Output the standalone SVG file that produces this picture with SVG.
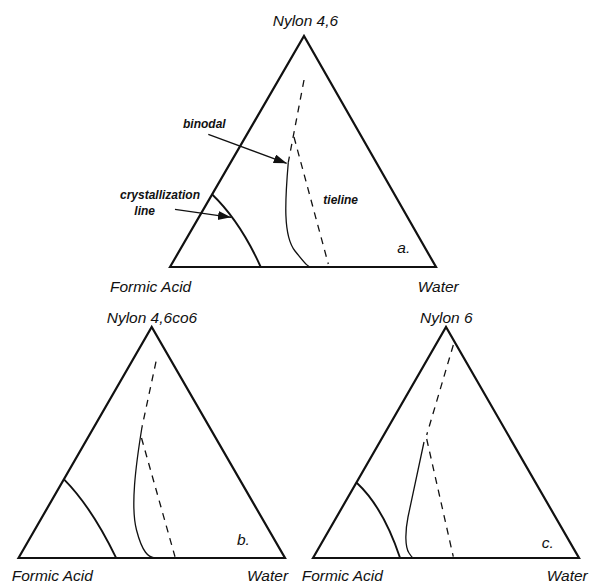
<svg xmlns="http://www.w3.org/2000/svg" width="590" height="583" viewBox="0 0 590 583">
<style>
.tri{fill:none;stroke:#111;stroke-width:2.2;stroke-linejoin:miter}
.cry{fill:none;stroke:#111;stroke-width:1.9}
.bin{fill:none;stroke:#111;stroke-width:1.3}
.dash{fill:none;stroke:#111;stroke-width:1.3;stroke-dasharray:7 6}
.arr{fill:none;stroke:#111;stroke-width:1.3}
.lab{font-family:"Liberation Sans",Arial,sans-serif;font-style:italic;font-size:15.5px;fill:#111}
.ann{font-family:"Liberation Sans",Arial,sans-serif;font-style:italic;font-weight:bold;font-size:12px;fill:#111}
</style>
<defs>
<marker id="ah" markerUnits="userSpaceOnUse" markerWidth="14" markerHeight="10" refX="13" refY="4.5" orient="auto">
<path d="M0,0 L13,4.5 L0,9 Z" fill="#111"/>
</marker>
</defs>
<rect width="590" height="583" fill="#fff"/>

<g id="panel-a" transform="translate(170,36)">
<path class="tri" d="M0,231 L134,0 L266,231 Z"/>
<path class="cry" d="M41.7,158 Q70,185 90.7,231"/>
<path class="bin" d="M118.3,126.3 C115,165 113,200 125,215 S138,231 142,231"/>
<path class="dash" d="M134,44 L118.3,126.3"/>
<path class="dash" d="M124,101 L158.3,228"/>
</g>
<g id="labels-a">
<text class="lab" x="272.7" y="26">Nylon 4,6</text>
<text class="lab" x="110" y="292">Formic Acid</text>
<text class="lab" x="417.7" y="291.7">Water</text>
<text class="lab" x="397.3" y="253.3">a.</text>
<text class="ann" x="183" y="128">binodal</text>
<text class="ann" x="323.3" y="204">tieline</text>
<text class="ann" x="120" y="199.3">crystallization</text>
<text class="ann" x="134.3" y="215">line</text>
</g>

<g id="panel-b" transform="translate(18.5,327)">
<path class="tri" d="M0,231 L133.2,0 L266.5,231 Z"/>
<path class="cry" d="M45.5,152.3 Q73,180 97.5,230.7"/>
<path class="bin" d="M123.5,100 C117,140 112,180 118,203 S130,230 136,231"/>
<path class="dash" d="M137.5,34.7 L123.5,100"/>
<path class="dash" d="M123,111 L156.5,229.7"/>
</g>
<g id="labels-b">
<text class="lab" x="106.7" y="323">Nylon 4,6co6</text>
<text class="lab" x="11.7" y="581">Formic Acid</text>
<text class="lab" x="247" y="581">Water</text>
<text class="lab" x="237" y="545">b.</text>
</g>

<g id="panel-c" transform="translate(313,327)">
<path class="tri" d="M0,231 L133,0 L266,231 Z"/>
<path class="cry" d="M43.7,155.7 Q70,180 87,230.7"/>
<path class="bin" d="M111,115 L95,190 C92,205 92,220 96,226 S100,231 102,231"/>
<path class="dash" d="M140.3,18 L113.7,108"/>
<path class="dash" d="M113.7,112 L140.3,229.7"/>
</g>
<g id="labels-c">
<text class="lab" x="420" y="323">Nylon 6</text>
<text class="lab" x="301.7" y="581">Formic Acid</text>
<text class="lab" x="546.7" y="581">Water</text>
<text class="lab" x="541.7" y="548">c.</text>
</g>

<g id="connectors">
<line class="arr" x1="208.3" y1="134.3" x2="286.7" y2="163.3" marker-end="url(#ah)"/>
<line class="arr" x1="175" y1="209.3" x2="231" y2="217.3" marker-end="url(#ah)"/>
</g>
</svg>
